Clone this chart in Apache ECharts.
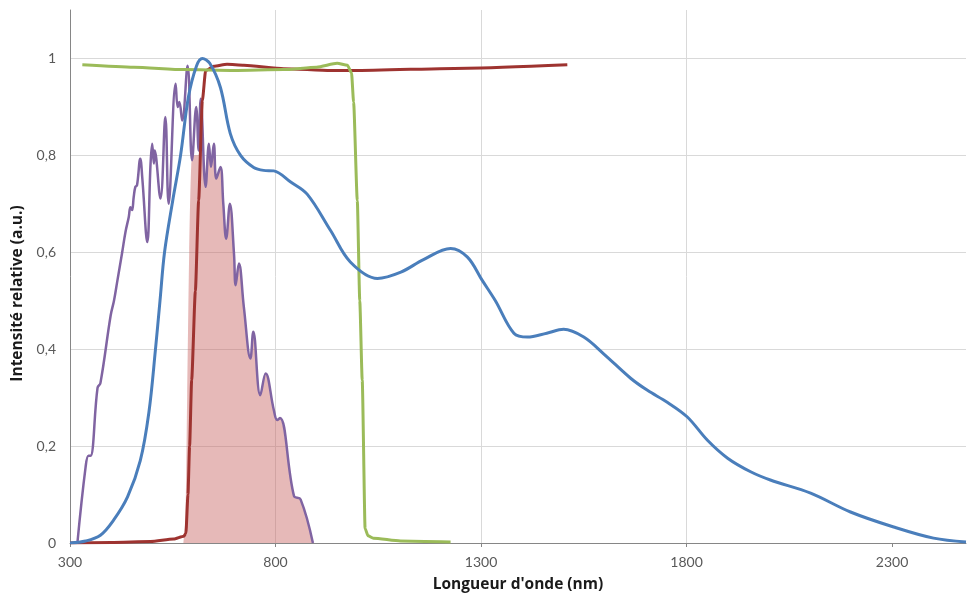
<!DOCTYPE html>
<html>
<head>
<meta charset="utf-8">
<script src="https://cdn.jsdelivr.net/npm/echarts@6/dist/echarts.min.js"></script>
<style>html,body{margin:0;padding:0;background:#fff}#c{width:967px;height:598px}</style>
</head>
<body>
<div id="c"></div>
<script>
// x tick labels (nm)
var xTickLabels = [300, 800, 1300, 1800, 2300];
// Blue curve [nm, value]
var blueData = [[300,0],[338,0.004],[374,0.016],[406,0.047],[440,0.095],[471,0.17],[492,0.27],[508,0.4],[519,0.5],[530,0.6],[550,0.707],[569,0.8],[588,0.92],[608,0.985],[622,1.0],[640,0.99],[666,0.94],[690,0.845],[715,0.80],[747,0.775],[771,0.769],[796,0.768],[837,0.745],[877,0.72],[934,0.645],[982,0.58],[1048,0.546],[1105,0.559],[1160,0.585],[1226,0.608],[1267,0.59],[1303,0.542],[1335,0.50],[1380,0.433],[1413,0.425],[1460,0.433],[1501,0.441],[1550,0.425],[1599,0.39],[1664,0.34],[1705,0.315],[1754,0.29],[1802,0.26],[1851,0.212],[1900,0.175],[1956,0.147],[2004,0.13],[2102,0.103],[2199,0.064],[2304,0.033],[2401,0.01],[2480,0.002]];
// Green curve
var greenData = [[330,0.987],[455,0.982],[577,0.977],[699,0.975],[820,0.977],[900,0.982],[950,0.99],[975,0.986],[985,0.97],[990,0.91],[999,0.707],[1005,0.50],[1011,0.336],[1018,0.03],[1025,0.015],[1038,0.01],[1104,0.004],[1226,0.002]];
// Dark red curve
var redData = [[300,0],[400,0.001],[496,0.003],[552,0.008],[577,0.014],[582,0.02],[587,0.1],[591,0.2],[596,0.336],[605,0.52],[613,0.707],[622,0.913],[630,0.975],[650,0.984],[682,0.988],[723,0.986],[820,0.979],[934,0.975],[990,0.975],[1267,0.98],[1510,0.987]];
// Purple curve
var purpleData = [[318,0],[338,0.157],[345,0.18],[350,0.18],[367,0.32],[374,0.33],[399,0.47],[407,0.50],[415,0.54],[427,0.6],[435,0.642],[443,0.673],[447,0.693],[451,0.687],[455,0.714],[459,0.735],[463,0.738],[471,0.793],[476,0.752],[488,0.621],[496,0.783],[500,0.824],[504,0.783],[506,0.81],[520,0.711],[532,0.879],[540,0.70],[557,0.948],[562,0.90],[566,0.91],[573,0.872],[586,0.985],[597,0.79],[607,0.90],[613,0.81],[618,0.917],[630,0.735],[638,0.824],[643,0.776],[650,0.824],[656,0.752],[666,0.776],[673,0.70],[680,0.628],[689,0.70],[699,0.597],[703,0.532],[711,0.577],[723,0.487],[739,0.381],[746,0.436],[763,0.305],[776,0.35],[796,0.274],[804,0.254],[811,0.258],[845,0.097],[861,0.09],[891,0]];
// Pink filled area
var fillData = [[576,0],[581,0.05],[585,0.3],[590,0.6],[595,0.78],[600,0.8],[606,0.8],[612,0.8],[618,0.82],[624,0.8],[630,0.735],[638,0.824],[643,0.776],[650,0.824],[656,0.752],[666,0.776],[673,0.70],[680,0.628],[689,0.70],[699,0.597],[703,0.532],[711,0.577],[723,0.487],[739,0.381],[746,0.436],[763,0.305],[776,0.35],[796,0.274],[804,0.254],[811,0.258],[845,0.097],[861,0.09],[893,0]];

var font = 'Lato, "Open Sans", sans-serif';
var titleFont = '"Open Sans", Lato, sans-serif';
var chart = echarts.init(document.getElementById('c'), null, {renderer: 'canvas'});
chart.setOption({
  animation: false,
  backgroundColor: '#ffffff',
  grid: {left: 70, right: 1, top: 10, bottom: 55, containLabel: false},
  xAxis: {
    type: 'value', min: 300, max: 2480, interval: 100,
    name: "Longueur d'onde (nm)", nameLocation: 'middle', nameGap: 34,
    nameTextStyle: {fontFamily: titleFont, fontWeight: 'bold', fontSize: 15.5, color: '#1a1a1a'},
    axisLine: {show: true, lineStyle: {color: '#868686', width: 1}},
    axisTick: {show: true, length: 4, customValues: xTickLabels, lineStyle: {color: '#868686'}},
    axisLabel: {customValues: xTickLabels, margin: 12, fontFamily: font, fontSize: 14, color: '#595959',
      formatter: function (v) { return String(v); }},
    splitLine: {show: true, showMaxLine: false, lineStyle: {color: '#d9d9d9', width: 1}}
  },
  yAxis: {
    type: 'value', min: 0, max: 1.1, interval: 0.2,
    name: 'Intensité relative (a.u.)', nameLocation: 'middle', nameGap: 38,
    nameTextStyle: {fontFamily: titleFont, fontWeight: 'bold', fontSize: 15.5, color: '#1a1a1a', padding: [0, 34, 0, 0]},
    axisLine: {show: true, lineStyle: {color: '#868686', width: 1}},
    axisTick: {show: false},
    axisLabel: {margin: 14, fontFamily: font, fontSize: 14, color: '#595959',
      formatter: function (v) { if (v > 1.05) return ''; return String(+v.toFixed(1)).replace('.', ','); }},
    splitLine: {show: true, showMaxLine: false, lineStyle: {color: '#d9d9d9', width: 1}}
  },
  series: [
    {name: 'fill', type: 'line', data: fillData, showSymbol: false, smooth: 0.25,
     lineStyle: {width: 0}, areaStyle: {color: 'rgba(200,100,98,0.45)', opacity: 1, origin: 'start'}, z: 1},
    {name: 'purple', type: 'line', data: purpleData, showSymbol: false, smooth: 0.4,
     lineStyle: {color: '#8064A2', width: 2.5}, z: 2},
    {name: 'red', type: 'line', data: redData, showSymbol: false, smooth: 0.2, smoothMonotone: 'x',
     lineStyle: {color: '#9E3330', width: 3}, z: 3},
    {name: 'green', type: 'line', data: greenData, showSymbol: false, smooth: 0.2, smoothMonotone: 'x',
     lineStyle: {color: '#9BBB59', width: 3}, z: 4},
    {name: 'blue', type: 'line', data: blueData, showSymbol: false, smooth: 0.35,
     lineStyle: {color: '#4A7EBB', width: 3}, z: 5}
  ]
});
</script>
</body>
</html>
